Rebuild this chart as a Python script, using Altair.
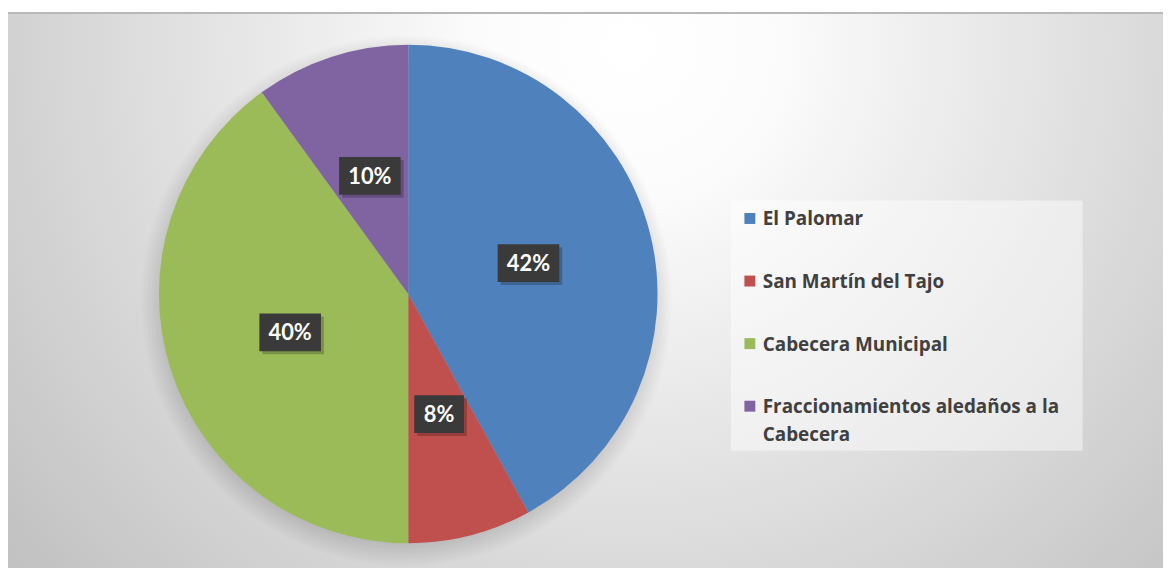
import altair as alt
import pandas as pd

# ---- data ----
categories = ["El Palomar", "San Martín del Tajo", "Cabecera Municipal",
              "Fraccionamientos aledaños a la Cabecera"]
values = [42, 8, 40, 10]
pct_labels = ["42%", "8%", "40%", "10%"]
legend_labels = ["El Palomar", "San Martín del Tajo", "Cabecera Municipal",
                 "Fraccionamientos aledaños a la\nCabecera"]
colors = ["#4f81bd", "#c0504d", "#9bbb59", "#8064a2"]

df = pd.DataFrame({
    "cat": categories,
    "value": values,
    "label": pct_labels,
    "leg": legend_labels,
    "order": list(range(len(categories))),
})
one = pd.DataFrame({"a": [0]})

W, H = 1163, 560
CX, CY, R = 403, 286, 251
LR = 125  # label radius

color_scale = alt.Scale(domain=categories, range=colors)

# background with radial gradient (rect extends below view and is clipped)
bg = alt.Chart(one).mark_rect(
    fill=alt.Gradient(
        gradient="radial",
        x1=0.527, y1=0.02, r1=0,
        x2=0.527, y2=0.02, r2=0.5,
        stops=[alt.GradientStop(offset=0, color="#ffffff"),
               alt.GradientStop(offset=0.18, color="#fcfcfc"),
               alt.GradientStop(offset=1, color="#c2c2c2")],
    )
).encode(x=alt.value(0), x2=alt.value(W), y=alt.value(3), y2=alt.value(1603))

border = alt.Chart(one).mark_rule(color="#b8b8b8", strokeWidth=2).encode(
    x=alt.value(0), x2=alt.value(W), y=alt.value(3))

shadow = alt.Chart(one).mark_arc(
    theta=0, theta2=6.2832, radius=268,
    fill=alt.Gradient(
        gradient="radial",
        x1=0.5, y1=0.5, r1=0, x2=0.5, y2=0.5, r2=0.5,
        stops=[alt.GradientStop(offset=0.0, color="rgba(0,0,0,0.25)"),
               alt.GradientStop(offset=0.86, color="rgba(0,0,0,0.22)"),
               alt.GradientStop(offset=1.0, color="rgba(0,0,0,0)")],
    )
).encode(x=alt.value(CX - 2), y=alt.value(CY + 7))

pie = alt.Chart(df).mark_arc(radius=R).encode(
    theta=alt.Theta("value:Q", stack=True),
    color=alt.Color("cat:N", scale=color_scale, legend=None),
    order=alt.Order("order:Q"),
    x=alt.value(CX), y=alt.value(CY),
)

lab_base = alt.Chart(df).transform_joinaggregate(
    total="sum(value)"
).transform_window(
    cum="sum(value)", sort=[alt.SortField("order")], frame=[None, 0]
).transform_calculate(
    mid="2*PI*(datum.cum - datum.value/2)/datum.total",
).transform_calculate(
    px=f"{CX} + {LR}*sin(datum.mid)",
    py=f"{CY} - {LR}*cos(datum.mid)",
    bw="12*length(datum.label) + 26",
).transform_calculate(
    bx1="datum.px - datum.bw/2", bx2="datum.px + datum.bw/2",
    by1="datum.py - 19", by2="datum.py + 19",
    sx1="datum.px - datum.bw/2 + 3", sx2="datum.px + datum.bw/2 + 3",
    sy1="datum.py - 16", sy2="datum.py + 22",
)

box_shadow = lab_base.mark_rect(fill="black", opacity=0.22).encode(
    x=alt.X("sx1:Q", scale=None, axis=None), x2="sx2:Q",
    y=alt.Y("sy1:Q", scale=None, axis=None), y2="sy2:Q",
)
boxes = lab_base.mark_rect(fill="#3a3a3a").encode(
    x=alt.X("bx1:Q", scale=None, axis=None), x2="bx2:Q",
    y=alt.Y("by1:Q", scale=None, axis=None), y2="by2:Q",
)
texts = lab_base.mark_text(
    font="Lato", fontWeight="bold", fontSize=22, color="white",
    align="center", baseline="middle", dy=1,
).encode(
    x=alt.X("px:Q", scale=None, axis=None),
    y=alt.Y("py:Q", scale=None, axis=None),
    text="label:N",
)

# legend
leg_box = alt.Chart(one).mark_rect(fill="white", opacity=0.45).encode(
    x=alt.value(728), x2=alt.value(1082), y=alt.value(192), y2=alt.value(444))

leg_base = alt.Chart(df).transform_calculate(
    ly="210 + 63*datum.order",
    ty="217 + 63*datum.order",
)
leg_sym = leg_base.mark_square(size=121, opacity=1).encode(
    x=alt.value(747),
    y=alt.Y("ly:Q", scale=None, axis=None),
    color=alt.Color("cat:N", scale=color_scale, legend=None),
)
leg_txt = leg_base.mark_text(
    font="Open Sans", fontWeight="bold", fontSize=19, color="#404040",
    align="left", baseline="alphabetic", lineBreak="\n", lineHeight=28,
).encode(
    x=alt.value(760),
    y=alt.Y("ty:Q", scale=None, axis=None),
    text="leg:N",
)

chart = alt.layer(
    bg, border, shadow, pie, box_shadow, boxes, texts,
    leg_box, leg_sym, leg_txt,
).properties(
    width=W, height=H, autosize="none", padding=0,
).configure_view(stroke=None)

chart.save("out.html", embed_options={"renderer": "svg", "actions": False})
